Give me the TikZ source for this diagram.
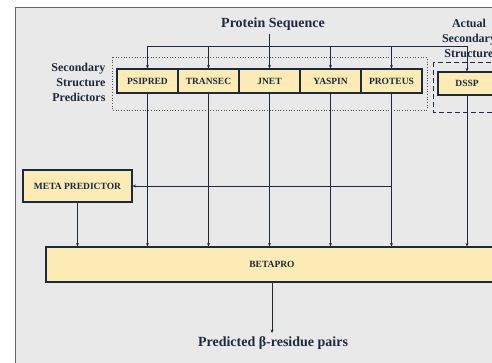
\documentclass[tikz,border=0pt]{standalone}
\usepackage{fontspec}
\setmainfont{Liberation Serif}
\usetikzlibrary{arrows.meta}
\definecolor{panelgray}{HTML}{E9E9E9}
\definecolor{boxfill}{HTML}{FCEBB4}
\definecolor{navy}{HTML}{1C2A3E}
\tikzset{
  tool/.style={draw=navy,line width=1.1pt,fill=boxfill,text=navy,font=\fontsize{9.5}{10}\selectfont\bfseries,
    minimum height=24pt,inner sep=0pt},
  heading/.style={text=navy,font=\fontsize{14}{16}\selectfont\bfseries},
  side/.style={text=navy,font=\fontsize{12}{15}\selectfont\bfseries},
  arr/.style={draw=navy,line width=0.8pt,-{Stealth[length=3.5pt,width=3pt]}},
  wire/.style={draw=navy,line width=0.8pt}
}
\begin{document}
\begin{tikzpicture}[x=1pt,y=-1pt]
   \useasboundingbox (0,0) rectangle (492,362);
   \clip (0,0) rectangle (492,362);
   % panel
   \draw[fill=panelgray,draw=gray!70!navy,line width=0.9pt] (15,7) rectangle (520,380);
   % groups
   \draw[navy!80,dotted,line width=0.7pt] (112,57) rectangle (427,110);
   \draw[navy,dashed,line width=1pt,dash pattern=on 5pt off 3pt] (433,62) rectangle (520,112);
   % labels
   \node[heading] (title) at (273,24) {Protein Sequence};
   \node[side,align=right,anchor=east] (sspred) at (109,82) {Secondary\\Structure\\Predictors};
   \node[side,align=center] (actual) at (469,38) {Actual\\Secondary\\Structure};
   % predictors
   \node[tool,minimum width=61pt] (psipred) at (147.5,81) {PSIPRED};
   \node[tool,minimum width=61pt] (transec) at (208.5,81) {TRANSEC};
   \node[tool,minimum width=61pt] (jnet)    at (269.5,81) {JNET};
   \node[tool,minimum width=61pt] (yaspin)  at (330.5,81) {YASPIN};
   \node[tool,minimum width=61pt] (proteus) at (391.5,81) {PROTEUS};
   \node[tool,minimum width=58pt,minimum height=23pt] (dssp) at (467,83.5) {DSSP};
   \node[tool,minimum width=109pt,minimum height=32pt] (meta) at (77.5,186) {META PREDICTOR};
   \node[tool,minimum width=452pt,minimum height=35pt] (betapro) at (272,264.5) {BETAPRO};
   \node[heading] (pairs) at (273,343) {Predicted β-residue pairs};
   % sequence to predictors
   \coordinate (split) at (268,46);
   \draw[arr] (jnet.north |- title.south) -- (jnet.north);
   \draw[wire] (psipred.north |- split) -- (dssp.north |- split);
   \foreach \p in {psipred,transec,yaspin,proteus,dssp}
      \draw[arr] (\p.north |- split) -- (\p.north);
   % predictors to betapro
   \foreach \p in {psipred,transec,jnet,yaspin,proteus,dssp}
      \draw[arr] (\p.south) -- (\p.south |- betapro.north);
   \draw[arr] (proteus.south |- meta.east) -- (meta.east);
   \draw[arr] (meta.south) -- (meta.south |- betapro.north);
   \draw[arr] (betapro.south) -- (betapro.south |- pairs.north);
\end{tikzpicture}
\end{document}
